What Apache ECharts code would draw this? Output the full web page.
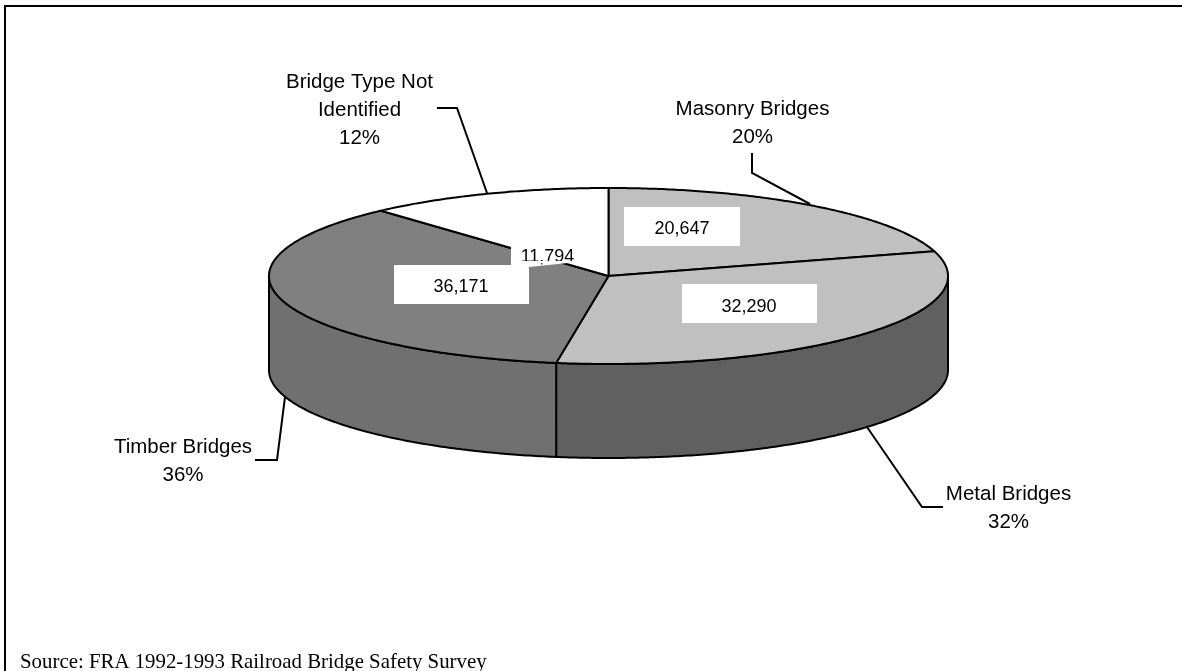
<!DOCTYPE html>
<html><head><meta charset="utf-8">
<style>html,body{margin:0;padding:0;background:#fff}#c{width:1182px;height:671px}</style>
<script src="https://cdn.jsdelivr.net/npm/echarts@6/dist/echarts.min.js"></script>
</head><body><div id="c"></div>
<script>
const categories = ['Masonry Bridges', 'Metal Bridges', 'Timber Bridges', 'Bridge Type Not Identified'];
const values = [20647, 32290, 36171, 11794];
const sourceNote = 'Source: FRA 1992-1993 Railroad Bridge Safety Survey';

const topColors = ['#c0c0c0', '#c0c0c0', '#808080', '#ffffff'];
const sideColors = ['#606060', '#606060', '#707070', '#ffffff'];
const boxes = [
  [[624, 207], [740, 207], [740, 246], [624, 246]],
  [[682, 284], [817, 284], [817, 323], [682, 323]],
  [[394, 265], [529, 265], [529, 304], [394, 304]],
  [[511, 240], [570, 240], [568, 263], [529, 267], [511, 267]]
];
const labelX = [682, 749, 461, 547.5];
const labelY = [229, 307, 287.5, 257.5];
const covers = [null, null, null, { x: 515, y: 261, width: 64, height: 2 }];
const cx = 608.5, cy = 276, rx = 339.5, ry = 88, depth = 94;
const total = values.reduce((a, b) => a + b, 0);
const fmt = v => v.toLocaleString('en-US');
const pct = v => Math.round(v / total * 100) + '%';
const pt = (t, dy) => [cx + rx * Math.sin(t), cy - ry * Math.cos(t) + (dy || 0)];
function arc(a, b, dy) {
  const n = Math.max(2, Math.ceil(Math.abs(b - a) / 0.01)), out = [];
  for (let i = 0; i <= n; i++) out.push(pt(a + (b - a) * i / n, dy));
  return out;
}
const startAngle = i => values.slice(0, i).reduce((a, b) => a + b, 0) / total * 2 * Math.PI;
const stroke = { stroke: '#000', lineWidth: 2, lineJoin: 'round' };

function sideItem(params, api) {
  const i = params.dataIndex;
  const a = Math.max(startAngle(i), Math.PI / 2), b = Math.min(startAngle(i + 1), Math.PI * 1.5);
  if (b <= a) return { type: 'group', children: [] };
  const pts = arc(a, b, 0).concat(arc(b, a, depth));
  return { type: 'polygon', shape: { points: pts }, style: Object.assign({ fill: sideColors[i] }, stroke) };
}
function topItem(params, api) {
  const i = params.dataIndex;
  const pts = [[cx, cy]].concat(arc(startAngle(i), startAngle(i + 1), 0));
  return { type: 'polygon', shape: { points: pts }, style: Object.assign({ fill: topColors[i] }, stroke) };
}
function boxItem(params, api) {
  const i = params.dataIndex;
  const children = [
    { type: 'polygon', shape: { points: boxes[i] }, style: { fill: '#fff' } },
    { type: 'text', style: { x: labelX[i], y: labelY[i], text: fmt(values[i]), fill: '#000', font: '18px "Liberation Sans"', textAlign: 'center', textVerticalAlign: 'middle' } }
  ];
  if (covers[i]) children.push({ type: 'rect', shape: covers[i], style: { fill: '#fff' } });
  return { type: 'group', children };
}
const dataRows = values.map((v, i) => ({ name: categories[i], value: v }));

const labelFont = '20.5px "Liberation Sans"';
const outerLabels = [
  { x: 752.5, y: 123.5, text: categories[0] + '\n' + pct(values[0]) },
  { x: 1008.5, y: 508, text: categories[1] + '\n' + pct(values[1]) },
  { x: 183, y: 461, text: categories[2] + '\n' + pct(values[2]) },
  { x: 359.5, y: 110.5, text: 'Bridge Type Not\nIdentified\n' + pct(values[3]) }
];
const leaders = [
  [[752, 153], [752, 173], [810, 204]],
  [[867, 427], [922, 507], [943, 507]],
  [[285, 397], [277, 460], [255, 460]],
  [[437, 108], [457, 108], [487, 193]]
];

const chart = echarts.init(document.getElementById('c'), null, { renderer: 'canvas' });
chart.setOption({
  animation: false,
  backgroundColor: '#fff',
  tooltip: { show: false },
  graphic: [
    { type: 'polyline', silent: true, shape: { points: [[5, 671], [5, 6], [1182, 6]] }, style: { stroke: '#000', lineWidth: 2, fill: null } },
    ...leaders.map(p => ({ type: 'polyline', silent: true, z: 5, shape: { points: p }, style: { stroke: '#000', lineWidth: 2, fill: null } })),
    ...outerLabels.map(l => ({ type: 'text', silent: true, z: 5, style: { x: l.x, y: l.y, text: l.text, font: labelFont, lineHeight: 28, fill: '#000', textAlign: 'center', textVerticalAlign: 'middle' } })),
    { type: 'text', silent: true, style: { x: 20, y: 663, text: sourceNote, font: '20.85px "Liberation Serif"', fill: '#000', textAlign: 'left', textVerticalAlign: 'middle' } }
  ],
  series: [
    { type: 'custom', coordinateSystem: 'none', z: 2, silent: true, renderItem: sideItem, data: dataRows },
    { type: 'custom', coordinateSystem: 'none', z: 3, silent: true, renderItem: topItem, data: dataRows },
    { type: 'custom', coordinateSystem: 'none', z: 4, silent: true, renderItem: boxItem, data: dataRows }
  ]
});
</script></body></html>
